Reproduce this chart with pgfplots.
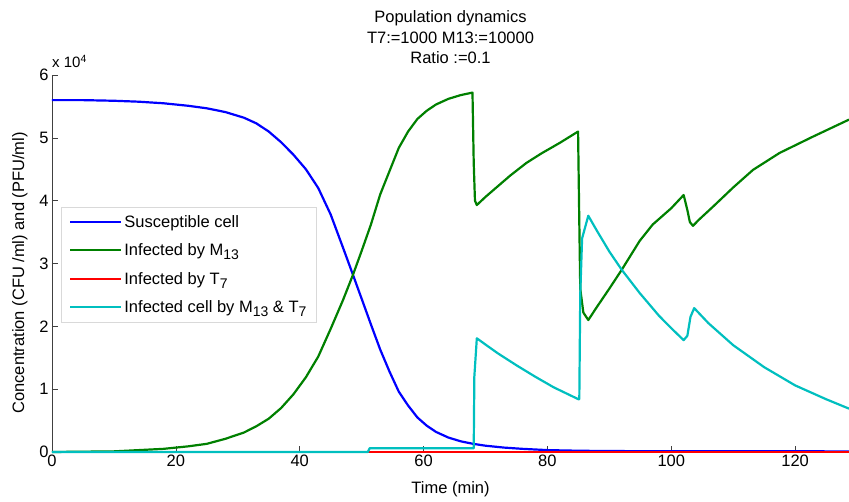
\documentclass[border=0pt]{standalone}
\usepackage{fontspec}
\setmainfont{Liberation Sans}
\usepackage{pgfplots}
\pgfplotsset{compat=1.18}
\definecolor{mblue}{rgb}{0,0,1}
\definecolor{mgreen}{rgb}{0,0.5,0}
\definecolor{mred}{rgb}{1,0,0}
\definecolor{mcyan}{rgb}{0,0.75,0.75}
\newcommand{\ff}{\fontsize{16.5}{20}\selectfont}
\newcommand{\sub}[1]{\raisebox{-0.5ex}{\fontsize{14}{16}\selectfont #1}}
\begin{document}
\begin{tikzpicture}[font=\ff]
\begin{axis}[name=ax, scale only axis, width=797pt, height=377pt,
  xmin=0, xmax=128.7, ymin=0, ymax=6, clip=false,
  axis x line*=bottom, axis y line*=left,
  axis line style={black!75, line width=0.6pt},
  xtick={0,20,...,120}, ytick={0,1,...,6},
  tick align=inside, major tick length=6pt,
  tick style={black!75, line width=0.6pt},
  /pgf/number format/assume math mode=true,
  tick label style={font=\ff},
  xticklabel style={anchor=base, yshift=-15pt},
  xlabel={Time (min)},
  xlabel style={at={(axis description cs:0.5,-0.109)}, anchor=base, font=\ff},
  ylabel={Concentration (CFU /ml) and (PFU/ml)},
  ylabel style={at={(axis description cs:-0.0351,0.475)}, anchor=base, font=\ff},
  title={Population dynamics\\T7:=1000 M13:=10000\\Ratio :=0.1},
  title style={at={(axis description cs:0.5,1)}, anchor=south, inner sep=0pt, yshift=5pt, align=center, font=\fontsize{16.5}{20.5}\selectfont},
  legend style={at={(axis description cs:0.0113,0.65)}, anchor=north west, draw=black!15, fill=white, font=\ff, cells={anchor=west}, row sep=11pt, inner xsep=8pt, inner ysep=6pt},
  legend image code/.code={\draw[#1, line width=2.2pt] (0pt,0pt) -- (51pt,0pt);},
  every axis plot/.append style={line width=2.2pt, line join=round},
]
\addplot[mblue] coordinates {
(0,5.60) (5,5.60) (10,5.59) (14,5.575) (18,5.55) (22,5.51) (25,5.47) (28,5.41)
(31,5.32) (33,5.23) (35,5.10) (37,4.93) (39,4.73) (41,4.50) (43,4.20) (45,3.78)
(47,3.25) (48.6,2.82) (50,2.44) (51.5,2.03) (53,1.63) (54.5,1.28) (56,0.96)
(57.5,0.74) (59,0.55) (60.5,0.42) (62,0.32) (64,0.23) (66,0.17) (68,0.13)
(70,0.10) (73,0.07) (76,0.05) (80,0.03) (85,0.02) (90,0.015) (100,0.012) (128.7,0.01)};
\addlegendentry{Susceptible cell}
\addplot[mgreen] coordinates {
(0,0) (10,0.01) (14,0.03) (18,0.05) (22,0.09) (25,0.13) (28,0.21) (31,0.31)
(33,0.41) (35,0.53) (37,0.70) (39,0.92) (41,1.19) (43,1.52) (45,1.96) (47,2.42)
(48.6,2.82) (50,3.20) (51.5,3.62) (53,4.10) (54.5,4.47) (56,4.84) (57.5,5.10)
(59,5.30) (60.5,5.43) (62,5.53) (64,5.62) (66,5.68) (67.9,5.72) (68.1,4.6)
(68.3,4.0) (68.6,3.93) (70,4.06) (72,4.23) (74,4.40) (76.6,4.60) (79,4.75)
(82,4.92) (84.95,5.10) (85.1,4.0) (85.3,2.6) (85.8,2.22) (86.6,2.10) (88,2.31)
(90,2.60) (92,2.90) (94.9,3.36) (97,3.62) (100,3.88) (102,4.09) (102.6,3.85)
(103.0,3.66) (103.5,3.60) (104.5,3.70) (106.8,3.91) (110,4.21) (113.2,4.49)
(117.5,4.76) (122.9,5.02) (128.7,5.29)};
\addlegendentry{Infected by M\sub{13}}
\addplot[mred] coordinates {(0,0) (128.7,0)};
\addlegendentry{Infected by T\sub{7}}
\addplot[mcyan] coordinates {
(0,0) (51,0) (51.3,0.06) (68.1,0.06) (68.2,1.2) (68.6,1.81) (70,1.71) (72,1.57)
(75,1.38) (78,1.20) (81,1.03) (85,0.84) (85.15,0.84) (85.3,2.5) (85.6,3.4)
(86.6,3.76) (88,3.52) (90,3.19) (92,2.90) (94.9,2.53) (98,2.17) (100,1.97)
(102,1.78) (102.6,1.85) (103.1,2.15) (103.7,2.29) (106,2.05) (110,1.70)
(115,1.35) (120,1.06) (125,0.84) (128.7,0.69)};
\addlegendentry{Infected cell by M\sub{13} \& T\sub{7}}
\end{axis}
\node[anchor=base west, inner sep=0pt, font=\fontsize{15}{17}\selectfont] at ([yshift=7pt]ax.north west) {x 10\textsuperscript{4}};
\pgfresetboundingbox
\path[use as bounding box] ([shift={(-52pt,-50pt)}]ax.south west) rectangle ([shift={(0pt,75pt)}]ax.north east);
\end{tikzpicture}
\end{document}
